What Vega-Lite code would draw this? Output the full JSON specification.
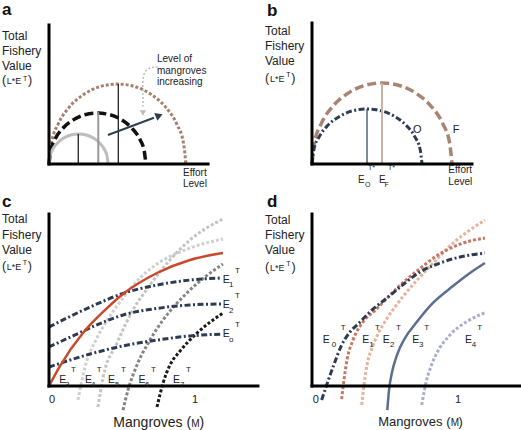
{
 "$schema": "https://vega.github.io/schema/vega-lite/v6.json",
 "padding": 0,
 "background": "white",
 "spacing": 0,
 "bounds": "flush",
 "columns": 2,
 "config": {"view": {"stroke": null}, "concat": {"spacing": 0}},
 "datasets": {
  "a_axes": [{"x":0,"y":0,"x2":0,"y2":0.993},{"x":0,"y":0,"x2":1.136,"y2":0}],
  "a_curves": [
   {"k":"large","x":0,"y":0},{"k":"large","x":0.017,"y":0.148},{"k":"large","x":0.066,"y":0.286},{"k":"large","x":0.143,"y":0.404},{"k":"large","x":0.244,"y":0.494},{"k":"large","x":0.362,"y":0.552},{"k":"large","x":0.489,"y":0.571},{"k":"large","x":0.616,"y":0.552},{"k":"large","x":0.734,"y":0.494},{"k":"large","x":0.835,"y":0.404},{"k":"large","x":0.912,"y":0.286},{"k":"large","x":0.961,"y":0.148},{"k":"large","x":0.978,"y":0},
   {"k":"medium","x":0,"y":0},{"k":"medium","x":0.012,"y":0.094},{"k":"medium","x":0.046,"y":0.182},{"k":"medium","x":0.101,"y":0.257},{"k":"medium","x":0.173,"y":0.315},{"k":"medium","x":0.256,"y":0.352},{"k":"medium","x":0.346,"y":0.364},{"k":"medium","x":0.436,"y":0.352},{"k":"medium","x":0.519,"y":0.315},{"k":"medium","x":0.591,"y":0.257},{"k":"medium","x":0.646,"y":0.182},{"k":"medium","x":0.68,"y":0.094},{"k":"medium","x":0.692,"y":0},
   {"k":"small","x":0,"y":0},{"k":"small","x":0.007,"y":0.055},{"k":"small","x":0.028,"y":0.107},{"k":"small","x":0.062,"y":0.151},{"k":"small","x":0.105,"y":0.185},{"k":"small","x":0.156,"y":0.207},{"k":"small","x":0.211,"y":0.214},{"k":"small","x":0.266,"y":0.207},{"k":"small","x":0.317,"y":0.185},{"k":"small","x":0.36,"y":0.151},{"k":"small","x":0.394,"y":0.107},{"k":"small","x":0.415,"y":0.055},{"k":"small","x":0.422,"y":0}
  ],
  "a_vthin": [{"x":0.209,"y":0,"y2":0.214},{"x":0.495,"y":0,"y2":0.571}],
  "a_vgray": [{"x":0.352,"y":0,"y2":0.37}],
  "a_arrow": [{"x":0.421,"y":0.207},{"x":0.75,"y":0.33}],
  "a_head": [{"x":0.779,"y":0.343}],
  "a_garrow": [{"i":1,"x":0.779,"y":0.693},{"i":2,"x":0.721,"y":0.686},{"i":3,"x":0.686,"y":0.657},{"i":4,"x":0.671,"y":0.6},{"i":5,"x":0.671,"y":0.493},{"i":6,"x":0.671,"y":0.41}],
  "a_ghead": [{"x":0.671,"y":0.364}],
  "a_text": [
   {"t":"Total","r":"title","x":-0.336,"y":0.889},
   {"t":"Fishery","r":"title","x":-0.336,"y":0.779},
   {"t":"Value","r":"title","x":-0.336,"y":0.668},
   {"t":"(","r":"paren","x":-0.336,"y":0.568},
   {"t":"L*E","r":"unit","x":-0.302,"y":0.568},
   {"t":"T","r":"sup","x":-0.186,"y":0.596},
   {"t":")","r":"paren","x":-0.15,"y":0.568},
   {"t":"Effort","r":"ax","x":0.957,"y":-0.086},
   {"t":"Level","r":"ax","x":0.957,"y":-0.162},
   {"t":"Level of","r":"ax","x":0.771,"y":0.729},
   {"t":"mangroves","r":"ax","x":0.771,"y":0.646},
   {"t":"increasing","r":"ax","x":0.771,"y":0.564}
  ],
  "b_axes": [{"x":0,"y":0,"x2":0,"y2":1.007},{"x":0,"y":0,"x2":1.143,"y2":0}],
  "b_curves": [
   {"k":"F","x":0,"y":0},{"k":"F","x":0.017,"y":0.15},{"k":"F","x":0.067,"y":0.29},{"k":"F","x":0.146,"y":0.409},{"k":"F","x":0.25,"y":0.501},{"k":"F","x":0.371,"y":0.559},{"k":"F","x":0.5,"y":0.579},{"k":"F","x":0.629,"y":0.559},{"k":"F","x":0.75,"y":0.501},{"k":"F","x":0.854,"y":0.409},{"k":"F","x":0.933,"y":0.29},{"k":"F","x":0.983,"y":0.15},{"k":"F","x":1.0,"y":0},
   {"k":"O","x":0,"y":0},{"k":"O","x":0.013,"y":0.102},{"k":"O","x":0.053,"y":0.197},{"k":"O","x":0.115,"y":0.278},{"k":"O","x":0.197,"y":0.34},{"k":"O","x":0.291,"y":0.38},{"k":"O","x":0.393,"y":0.393},{"k":"O","x":0.495,"y":0.38},{"k":"O","x":0.59,"y":0.34},{"k":"O","x":0.671,"y":0.278},{"k":"O","x":0.733,"y":0.197},{"k":"O","x":0.773,"y":0.102},{"k":"O","x":0.786,"y":0}
  ],
  "b_vO": [{"x":0.393,"y":0,"y2":0.393}],
  "b_vF": [{"x":0.5,"y":0,"y2":0.579}],
  "b_text": [
   {"t":"Total","r":"title","x":-0.336,"y":0.921},
   {"t":"Fishery","r":"title","x":-0.336,"y":0.814},
   {"t":"Value","r":"title","x":-0.336,"y":0.707},
   {"t":"(","r":"paren","x":-0.336,"y":0.589},
   {"t":"L*E","r":"unit","x":-0.3,"y":0.589},
   {"t":"T","r":"sup","x":-0.184,"y":0.62},
   {"t":")","r":"paren","x":-0.148,"y":0.589},
   {"t":"O","r":"lbl","x":0.721,"y":0.219},
   {"t":"F","r":"lbl","x":1.005,"y":0.219},
   {"t":"T*","r":"sup","x":0.4,"y":-0.046},
   {"t":"T*","r":"sup","x":0.543,"y":-0.046},
   {"t":"E","r":"ax","x":0.329,"y":-0.138},
   {"t":"O","r":"sup","x":0.379,"y":-0.162},
   {"t":"E","r":"ax","x":0.479,"y":-0.138},
   {"t":"F","r":"sup","x":0.517,"y":-0.162},
   {"t":"Effort","r":"ax","x":0.974,"y":-0.067},
   {"t":"Level","r":"ax","x":0.974,"y":-0.15}
  ],
  "c_axes": [{"x":0,"y":0,"x2":0,"y2":1.0},{"x":0,"y":0,"x2":1.451,"y2":0}],
  "c_curves": [
   {"k":"red","x":0,"y":0},{"k":"red","x":0.076,"y":0.116},{"k":"red","x":0.236,"y":0.308},{"k":"red","x":0.285,"y":0.355},{"k":"red","x":0.403,"y":0.453},{"k":"red","x":0.514,"y":0.535},{"k":"red","x":0.75,"y":0.657},{"k":"red","x":0.979,"y":0.733},{"k":"red","x":1.208,"y":0.773},
   {"k":"E1","x":0,"y":0.343},{"k":"E1","x":0.285,"y":0.459},{"k":"E1","x":0.514,"y":0.538},{"k":"E1","x":0.75,"y":0.587},{"k":"E1","x":0.979,"y":0.616},{"k":"E1","x":1.201,"y":0.628},
   {"k":"E2","x":0,"y":0.227},{"k":"E2","x":0.181,"y":0.297},{"k":"E2","x":0.354,"y":0.363},{"k":"E2","x":0.514,"y":0.413},{"k":"E2","x":0.75,"y":0.451},{"k":"E2","x":0.979,"y":0.471},{"k":"E2","x":1.201,"y":0.477},
   {"k":"E0","x":0,"y":0.11},{"k":"E0","x":0.285,"y":0.186},{"k":"E0","x":0.514,"y":0.233},{"k":"E0","x":0.75,"y":0.267},{"k":"E0","x":0.979,"y":0.291},{"k":"E0","x":1.201,"y":0.302},
   {"k":"L1","x":0.201,"y":-0.081},{"k":"L1","x":0.25,"y":0.11},{"k":"L1","x":0.333,"y":0.279},{"k":"L1","x":0.424,"y":0.407},{"k":"L1","x":0.514,"y":0.512},{"k":"L1","x":0.632,"y":0.628},{"k":"L1","x":0.75,"y":0.709},{"k":"L1","x":0.979,"y":0.802},{"k":"L1","x":1.208,"y":0.855},
   {"k":"L2","x":0.34,"y":-0.122},{"k":"L2","x":0.375,"y":0.047},{"k":"L2","x":0.472,"y":0.25},{"k":"L2","x":0.583,"y":0.442},{"k":"L2","x":0.701,"y":0.587},{"k":"L2","x":0.84,"y":0.733},{"k":"L2","x":0.979,"y":0.849},{"k":"L2","x":1.208,"y":0.971},
   {"k":"L3","x":0.514,"y":-0.14},{"k":"L3","x":0.549,"y":-0.023},{"k":"L3","x":0.611,"y":0.122},{"k":"L3","x":0.701,"y":0.267},{"k":"L3","x":0.792,"y":0.384},{"k":"L3","x":0.958,"y":0.541},{"k":"L3","x":1.083,"y":0.634},{"k":"L3","x":1.208,"y":0.709},
   {"k":"L4","x":0.75,"y":-0.122},{"k":"L4","x":0.792,"y":0.017},{"k":"L4","x":0.84,"y":0.122},{"k":"L4","x":0.91,"y":0.203},{"k":"L4","x":1.028,"y":0.308},{"k":"L4","x":1.208,"y":0.424}
  ],
  "c_text": [
   {"t":"Total","r":"title","x":-0.326,"y":0.945},
   {"t":"Fishery","r":"title","x":-0.326,"y":0.855},
   {"t":"Value","r":"title","x":-0.326,"y":0.765},
   {"t":"(","r":"paren","x":-0.326,"y":0.674},
   {"t":"L*E","r":"unit","x":-0.294,"y":0.674},
   {"t":"T","r":"sup","x":-0.183,"y":0.701},
   {"t":")","r":"paren","x":-0.147,"y":0.674},
   {"t":"0","r":"tick","x":0,"y":-0.097},
   {"t":"1","r":"tick","x":0.993,"y":-0.097},
   {"t":"Mangroves (","r":"xt","x":0.447,"y":-0.237},
   {"t":"M","r":"xtM","x":0.988,"y":-0.237},
   {"t":")","r":"xt","x":1.046,"y":-0.237},
   {"t":"E","r":"E","x":0.072,"y":0.017},{"t":"3","r":"Esub","x":0.111,"y":-0.004},{"t":"T","r":"Esup","x":0.153,"y":0.083},
   {"t":"E","r":"E","x":0.25,"y":0.017},{"t":"4","r":"Esub","x":0.292,"y":-0.004},{"t":"T","r":"Esup","x":0.331,"y":0.083},
   {"t":"E","r":"E","x":0.41,"y":0.017},{"t":"5","r":"Esub","x":0.458,"y":-0.004},{"t":"T","r":"Esup","x":0.5,"y":0.083},
   {"t":"E","r":"E","x":0.622,"y":0.017},{"t":"6","r":"Esub","x":0.667,"y":-0.004},{"t":"T","r":"Esup","x":0.708,"y":0.083},
   {"t":"E","r":"E","x":0.861,"y":0.017},{"t":"7","r":"Esub","x":0.91,"y":-0.004},{"t":"T","r":"Esup","x":0.951,"y":0.083},
   {"t":"E","r":"E","x":1.206,"y":0.597},{"t":"1","r":"Esub","x":1.25,"y":0.573},{"t":"T","r":"Esup","x":1.292,"y":0.655},
   {"t":"E","r":"E","x":1.206,"y":0.452},{"t":"2","r":"Esub","x":1.25,"y":0.427},{"t":"T","r":"Esup","x":1.292,"y":0.51},
   {"t":"E","r":"E","x":1.206,"y":0.283},{"t":"o","r":"Esub","x":1.25,"y":0.256},{"t":"T","r":"Esup","x":1.292,"y":0.345}
  ],
  "d_axes": [{"x":0,"y":0,"x2":0,"y2":1.0},{"x":0,"y":0,"x2":1.451,"y2":0}],
  "d_curves": [
   {"k":"E0","x":0.067,"y":-0.081},{"k":"E0","x":0.102,"y":0.006},{"k":"E0","x":0.146,"y":0.11},{"k":"E0","x":0.206,"y":0.238},{"k":"E0","x":0.264,"y":0.314},{"k":"E0","x":0.319,"y":0.36},{"k":"E0","x":0.417,"y":0.442},{"k":"E0","x":0.521,"y":0.512},{"k":"E0","x":0.646,"y":0.599},{"k":"E0","x":0.75,"y":0.663},{"k":"E0","x":0.889,"y":0.715},{"k":"E0","x":1.028,"y":0.75},{"k":"E0","x":1.201,"y":0.773},
   {"k":"E1","x":0.206,"y":-0.076},{"k":"E1","x":0.222,"y":0.035},{"k":"E1","x":0.243,"y":0.151},{"k":"E1","x":0.285,"y":0.267},{"k":"E1","x":0.354,"y":0.372},{"k":"E1","x":0.438,"y":0.44},{"k":"E1","x":0.521,"y":0.51},{"k":"E1","x":0.611,"y":0.585},{"k":"E1","x":0.75,"y":0.683},{"k":"E1","x":0.854,"y":0.75},{"k":"E1","x":0.979,"y":0.808},{"k":"E1","x":1.097,"y":0.843},{"k":"E1","x":1.201,"y":0.86},
   {"k":"E2","x":0.345,"y":-0.11},{"k":"E2","x":0.361,"y":0.006},{"k":"E2","x":0.382,"y":0.122},{"k":"E2","x":0.417,"y":0.221},{"k":"E2","x":0.458,"y":0.302},{"k":"E2","x":0.514,"y":0.384},{"k":"E2","x":0.576,"y":0.459},{"k":"E2","x":0.646,"y":0.535},{"k":"E2","x":0.75,"y":0.634},{"k":"E2","x":0.868,"y":0.738},{"k":"E2","x":0.979,"y":0.831},{"k":"E2","x":1.097,"y":0.907},{"k":"E2","x":1.201,"y":0.965},
   {"k":"E3","x":0.523,"y":-0.14},{"k":"E3","x":0.535,"y":-0.023},{"k":"E3","x":0.556,"y":0.081},{"k":"E3","x":0.59,"y":0.18},{"k":"E3","x":0.646,"y":0.279},{"k":"E3","x":0.722,"y":0.366},{"k":"E3","x":0.84,"y":0.483},{"k":"E3","x":0.979,"y":0.581},{"k":"E3","x":1.097,"y":0.657},{"k":"E3","x":1.201,"y":0.715},
   {"k":"E4","x":0.762,"y":-0.11},{"k":"E4","x":0.796,"y":0.035},{"k":"E4","x":0.83,"y":0.122},{"k":"E4","x":0.866,"y":0.19},{"k":"E4","x":0.958,"y":0.297},{"k":"E4","x":1.074,"y":0.374},{"k":"E4","x":1.201,"y":0.426}
  ],
  "d_text": [
   {"t":"Total","r":"title","x":-0.326,"y":0.942},
   {"t":"Fishery","r":"title","x":-0.326,"y":0.852},
   {"t":"Value","r":"title","x":-0.326,"y":0.766},
   {"t":"(","r":"paren","x":-0.326,"y":0.666},
   {"t":"L*E","r":"unit","x":-0.292,"y":0.666},
   {"t":"T","r":"sup","x":-0.178,"y":0.695},
   {"t":")","r":"paren","x":-0.142,"y":0.666},
   {"t":"0","r":"tick","x":0.005,"y":-0.097},
   {"t":"1","r":"tick","x":0.993,"y":-0.097},
   {"t":"Mangroves (","r":"xt2","x":0.46,"y":-0.233},
   {"t":"M","r":"xtM","x":0.963,"y":-0.233},
   {"t":")","r":"xt2","x":1.017,"y":-0.233},
   {"t":"E","r":"E","x":0.074,"y":0.248},{"t":"0","r":"Esub","x":0.137,"y":0.228},{"t":"T","r":"Esup","x":0.2,"y":0.326},
   {"t":"E","r":"E","x":0.349,"y":0.248},{"t":"1","r":"Esub","x":0.398,"y":0.228},{"t":"T","r":"Esup","x":0.438,"y":0.326},
   {"t":"E","r":"E","x":0.491,"y":0.248},{"t":"2","r":"Esub","x":0.542,"y":0.228},{"t":"T","r":"Esup","x":0.583,"y":0.326},
   {"t":"E","r":"E","x":0.697,"y":0.248},{"t":"3","r":"Esub","x":0.743,"y":0.228},{"t":"T","r":"Esup","x":0.78,"y":0.326},
   {"t":"E","r":"E","x":1.063,"y":0.248},{"t":"4","r":"Esub","x":1.109,"y":0.228},{"t":"T","r":"Esup","x":1.148,"y":0.326}
  ]
 },
 "concat": [
   {"width": 260, "height": 210,
    "encoding": {
     "x": {"field":"x","type":"quantitative","scale":{"domain":[-0.35,1.5071],"nice":false,"zero":false},"axis":null},
     "y": {"field":"y","type":"quantitative","scale":{"domain":[-0.3286,1.1714],"nice":false,"zero":false},"axis":null}
    },
    "layer": [
     {"data":{"name":"a_curves"},"transform":[{"filter":"datum.k==='large'"}],"mark":{"type":"line","color":"#a8806e","strokeWidth":3,"strokeDash":[3,2],"interpolate":"monotone"},"encoding":{}},
     {"data":{"name":"a_curves"},"transform":[{"filter":"datum.k==='medium'"}],"mark":{"type":"line","color":"#111111","strokeWidth":3.5,"strokeDash":[9,4],"interpolate":"monotone"},"encoding":{}},
     {"data":{"name":"a_curves"},"transform":[{"filter":"datum.k==='small'"}],"mark":{"type":"line","color":"#bdbdbd","strokeWidth":3,"interpolate":"monotone"},"encoding":{}},
     {"data":{"name":"a_vthin"},"mark":{"type":"rule","color":"#111111","strokeWidth":1.2},"encoding":{"y2":{"field":"y2"}}},
     {"data":{"name":"a_vgray"},"mark":{"type":"rule","color":"#999999","strokeWidth":2},"encoding":{"y2":{"field":"y2"}}},
     {"data":{"name":"a_axes"},"mark":{"type":"rule","color":"#000000","strokeWidth":3,"strokeCap":"square"},"encoding":{"x2":{"field":"x2"},"y2":{"field":"y2"}}},
     {"data":{"name":"a_arrow"},"mark":{"type":"line","color":"#2c3e50","strokeWidth":2},"encoding":{}},
     {"data":{"name":"a_head"},"mark":{"type":"point","shape":"triangle","angle":68,"size":70,"filled":true,"opacity":1,"color":"#2c3e50"},"encoding":{}},
     {"data":{"name":"a_garrow"},"mark":{"type":"line","color":"#bbbbbb","strokeWidth":1.5,"strokeDash":[2,2],"interpolate":"cardinal"},"encoding":{"order":{"field":"i","type":"quantitative"}}},
     {"data":{"name":"a_ghead"},"mark":{"type":"point","shape":"triangle-down","size":40,"filled":true,"opacity":1,"color":"#bbbbbb"},"encoding":{}},
     {"data":{"name":"a_text"},"mark":{"type":"text","align":"left","baseline":"alphabetic","font":"Liberation Sans","color":"#222222"},
      "encoding":{"text":{"field":"t"},"size":{"field":"r","type":"nominal","scale":{"type":"ordinal","domain":["title","paren","unit","sup","ax","lbl","E","Esub","Esup","tick","xt","xt2","xtM"],"range":[12,12.5,9,7,10,11,10.5,8,8,11,14,13,10]},"legend":null}}},
     {"data":{"values":[{"t":"a","x":-0.336,"y":1.064}]},"mark":{"type":"text","align":"left","baseline":"alphabetic","font":"Liberation Sans","fontWeight":"bold","fontSize":17,"color":"#111111"},"encoding":{"text":{"field":"t"}}}
    ]
   },
   {"width": 261, "height": 210,
    "encoding": {
     "x": {"field":"x","type":"quantitative","scale":{"domain":[-0.3714,1.4929],"nice":false,"zero":false},"axis":null},
     "y": {"field":"y","type":"quantitative","scale":{"domain":[-0.3286,1.1714],"nice":false,"zero":false},"axis":null}
    },
    "layer": [
     {"data":{"name":"b_curves"},"transform":[{"filter":"datum.k==='F'"}],"mark":{"type":"line","color":"#a98472","strokeWidth":3.5,"strokeDash":[9,4],"interpolate":"monotone"},"encoding":{}},
     {"data":{"name":"b_curves"},"transform":[{"filter":"datum.k==='O'"}],"mark":{"type":"line","color":"#2c3d55","strokeWidth":3,"strokeDash":[6,2.5,2,2.5],"interpolate":"monotone"},"encoding":{}},
     {"data":{"name":"b_vO"},"mark":{"type":"rule","color":"#2c3d55","strokeWidth":1.2},"encoding":{"y2":{"field":"y2"}}},
     {"data":{"name":"b_vF"},"mark":{"type":"rule","color":"#c9b2a6","strokeWidth":2},"encoding":{"y2":{"field":"y2"}}},
     {"data":{"name":"b_axes"},"mark":{"type":"rule","color":"#000000","strokeWidth":3,"strokeCap":"square"},"encoding":{"x2":{"field":"x2"},"y2":{"field":"y2"}}},
     {"data":{"name":"b_text"},"mark":{"type":"text","align":"left","baseline":"alphabetic","font":"Liberation Sans","color":"#222222"},
      "encoding":{"text":{"field":"t"},"size":{"field":"r","type":"nominal","scale":{"type":"ordinal","domain":["title","paren","unit","sup","ax","lbl","E","Esub","Esup","tick","xt","xt2","xtM"],"range":[12,12.5,9,7,10,11,10.5,8,8,11,14,13,10]},"legend":null}}},
     {"data":{"values":[{"t":"b","x":-0.321,"y":1.06}]},"mark":{"type":"text","align":"left","baseline":"alphabetic","font":"Liberation Sans","fontWeight":"bold","fontSize":17,"color":"#111111"},"encoding":{"text":{"field":"t"}}}
    ]
   },
   {"width": 260, "height": 220,
    "encoding": {
     "x": {"field":"x","type":"quantitative","scale":{"domain":[-0.3403,1.4653],"nice":false,"zero":false},"axis":null},
     "y": {"field":"y","type":"quantitative","scale":{"domain":[-0.2558,1.0233],"nice":false,"zero":false},"axis":null}
    },
    "layer": [
     {"data":{"name":"c_curves"},"transform":[{"filter":"datum.k==='L1'"}],"mark":{"type":"line","color":"#d0d0d0","strokeWidth":3,"strokeDash":[3,2],"interpolate":"monotone"},"encoding":{}},
     {"data":{"name":"c_curves"},"transform":[{"filter":"datum.k==='L2'"}],"mark":{"type":"line","color":"#c4c4c4","strokeWidth":3,"strokeDash":[3,2],"interpolate":"monotone"},"encoding":{}},
     {"data":{"name":"c_curves"},"transform":[{"filter":"datum.k==='L3'"}],"mark":{"type":"line","color":"#858585","strokeWidth":3,"strokeDash":[3,2],"interpolate":"monotone"},"encoding":{}},
     {"data":{"name":"c_curves"},"transform":[{"filter":"datum.k==='L4'"}],"mark":{"type":"line","color":"#1a1a1a","strokeWidth":3,"strokeDash":[3,2],"interpolate":"monotone"},"encoding":{}},
     {"data":{"name":"c_curves"},"transform":[{"filter":"datum.k==='E0' || datum.k==='E1' || datum.k==='E2'"}],"mark":{"type":"line","color":"#2d3c52","strokeWidth":3,"strokeDash":[6,2.5,2,2.5],"interpolate":"monotone"},"encoding":{"detail":{"field":"k"}}},
     {"data":{"name":"c_curves"},"transform":[{"filter":"datum.k==='red'"}],"mark":{"type":"line","color":"#c9482c","strokeWidth":2.5,"interpolate":"monotone"},"encoding":{}},
     {"data":{"name":"c_axes"},"mark":{"type":"rule","color":"#000000","strokeWidth":3,"strokeCap":"square"},"encoding":{"x2":{"field":"x2"},"y2":{"field":"y2"}}},
     {"data":{"name":"c_text"},"mark":{"type":"text","align":"left","baseline":"alphabetic","font":"Liberation Sans","color":"#222222"},
      "encoding":{"text":{"field":"t"},"size":{"field":"r","type":"nominal","scale":{"type":"ordinal","domain":["title","paren","unit","sup","ax","lbl","E","Esub","Esup","tick","xt","xt2","xtM"],"range":[12,12.5,9,7,10,11,10.5,8,8,11,14,13,10]},"legend":null}}},
     {"data":{"values":[{"t":"c","x":-0.326,"y":1.041}]},"mark":{"type":"text","align":"left","baseline":"alphabetic","font":"Liberation Sans","fontWeight":"bold","fontSize":17,"color":"#111111"},"encoding":{"text":{"field":"t"}}}
    ]
   },
   {"width": 261, "height": 220,
    "encoding": {
     "x": {"field":"x","type":"quantitative","scale":{"domain":[-0.3611,1.4514],"nice":false,"zero":false},"axis":null},
     "y": {"field":"y","type":"quantitative","scale":{"domain":[-0.2558,1.0233],"nice":false,"zero":false},"axis":null}
    },
    "layer": [
     {"data":{"name":"d_curves"},"transform":[{"filter":"datum.k==='E4'"}],"mark":{"type":"line","color":"#a9aed1","strokeWidth":3,"strokeDash":[3,2],"interpolate":"monotone"},"encoding":{}},
     {"data":{"name":"d_curves"},"transform":[{"filter":"datum.k==='E3'"}],"mark":{"type":"line","color":"#5b6e90","strokeWidth":2.5,"interpolate":"monotone"},"encoding":{}},
     {"data":{"name":"d_curves"},"transform":[{"filter":"datum.k==='E2'"}],"mark":{"type":"line","color":"#e5b39f","strokeWidth":3,"strokeDash":[3,2],"interpolate":"monotone"},"encoding":{}},
     {"data":{"name":"d_curves"},"transform":[{"filter":"datum.k==='E1'"}],"mark":{"type":"line","color":"#c47866","strokeWidth":3,"strokeDash":[3,2],"interpolate":"monotone"},"encoding":{}},
     {"data":{"name":"d_curves"},"transform":[{"filter":"datum.k==='E0'"}],"mark":{"type":"line","color":"#2d3c55","strokeWidth":3,"strokeDash":[6,2.5,2,2.5],"interpolate":"monotone"},"encoding":{}},
     {"data":{"name":"d_axes"},"mark":{"type":"rule","color":"#000000","strokeWidth":3,"strokeCap":"square"},"encoding":{"x2":{"field":"x2"},"y2":{"field":"y2"}}},
     {"data":{"name":"d_text"},"mark":{"type":"text","align":"left","baseline":"alphabetic","font":"Liberation Sans","color":"#222222"},
      "encoding":{"text":{"field":"t"},"size":{"field":"r","type":"nominal","scale":{"type":"ordinal","domain":["title","paren","unit","sup","ax","lbl","E","Esub","Esup","tick","xt","xt2","xtM"],"range":[12,12.5,9,7,10,11,10.5,8,8,11,14,13,10]},"legend":null}}},
     {"data":{"values":[{"t":"d","x":-0.3125,"y":1.041}]},"mark":{"type":"text","align":"left","baseline":"alphabetic","font":"Liberation Sans","fontWeight":"bold","fontSize":17,"color":"#111111"},"encoding":{"text":{"field":"t"}}}
    ]
   }
 ]
}
